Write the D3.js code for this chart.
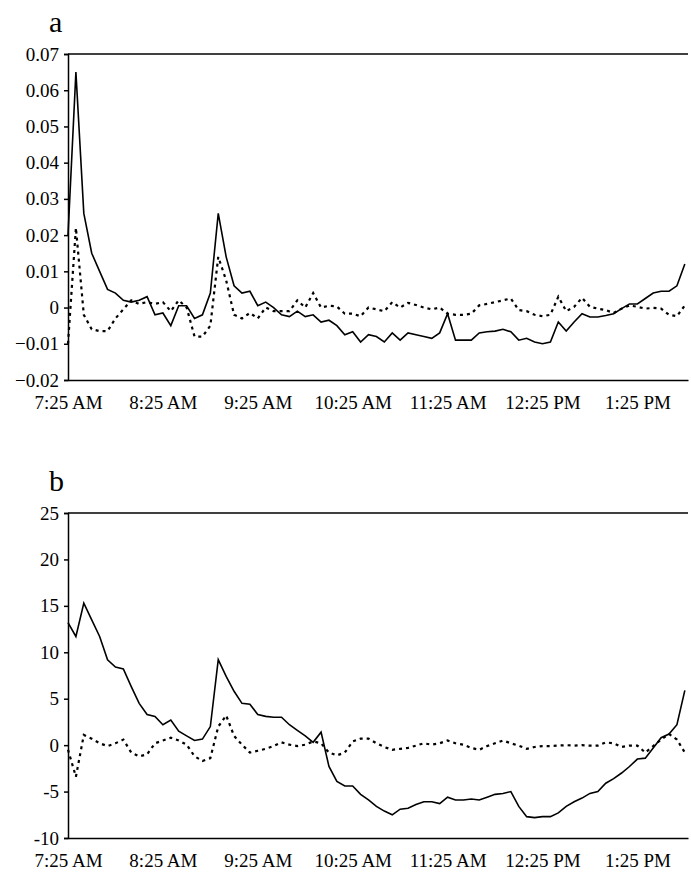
<!DOCTYPE html>
<html>
<head>
<meta charset="utf-8">
<script src="https://cdn.jsdelivr.net/npm/d3@7"></script>
<style>
  body { margin: 0; background: #fff; }
  svg text { font-family: "Liberation Serif", "Times New Roman", "DejaVu Serif", serif !important; fill: #000; }
</style>
</head>
<body>
<script>
// minutes after 7:25 AM, one sample every 5 minutes
const stepMinutes = 5;
const timeLabels = ['7:25 AM', '8:25 AM', '9:25 AM', '10:25 AM', '11:25 AM', '12:25 PM', '1:25 PM'];

const solidA = [
  0.02, 0.065, 0.026, 0.015, 0.010, 0.005, 0.004, 0.002, 0.0015, 0.002,
  0.003, -0.002, -0.0015, -0.005, 0.0005, 0.0005, -0.003, -0.002, 0.004, 0.026,
  0.014, 0.006, 0.004, 0.0045, 0.0005, 0.0015, 0.0, -0.002, -0.0025, -0.001,
  -0.0025, -0.002, -0.004, -0.0035, -0.005,
  -0.0075, -0.0067, -0.0095, -0.0075, -0.008, -0.0095, -0.007, -0.009, -0.007, -0.0075,
  -0.008, -0.0085, -0.007, -0.0017, -0.009, -0.009, -0.009, -0.007, -0.0067, -0.0065,
  -0.006, -0.0067, -0.009, -0.0085, -0.0095, -0.01, -0.0095, -0.004, -0.0065, -0.004,
  -0.0017, -0.0026, -0.0026, -0.0022, -0.0017, -0.0003, 0.001, 0.001, 0.0025, 0.004,
  0.0045, 0.0045, 0.006, 0.012
];
const dottedA = [
  -0.01, 0.022, -0.002, -0.006, -0.0065, -0.0065, -0.003, -0.0005, 0.002, 0.001,
  0.0015, 0.001, 0.0015, -0.001, 0.002, 0.0, -0.008, -0.008, -0.005, 0.014,
  0.0075, -0.002, -0.003, -0.0015, -0.003, 0.0, -0.001, -0.001, -0.001, 0.002,
  0.0, 0.004, 0.0, 0.0005, 0.0003,
  -0.0017, -0.0017, -0.0024, 0.0, -0.0005, -0.001, 0.0015, 0.0, 0.0013, 0.0007,
  0.0, -0.0005, 0.0, -0.0017, -0.002, -0.002, -0.0017, 0.0006, 0.001, 0.0015,
  0.002, 0.0025, -0.0007, -0.001, -0.002, -0.0024, -0.002, 0.003, -0.001, 0.0002,
  0.0027, 0.0002, -0.0003, -0.0007, -0.0015, -0.0003, 0.0006, 0.0002, -0.0003, -0.0001,
  -0.0003, -0.002, -0.0024, 0.0006
];
const solidB = [
  13.2, 11.7, 15.3, 13.5, 11.7, 9.2, 8.4, 8.2, 6.3, 4.5,
  3.3, 3.1, 2.2, 2.7, 1.5, 1.0, 0.5, 0.65, 2.0, 9.2,
  7.4, 5.8, 4.5, 4.4, 3.3, 3.1, 3.0, 3.0, 2.2, 1.6,
  1.0, 0.3, 1.4, -2.3, -3.9, -4.4, -4.4,
  -5.3, -5.9, -6.6, -7.1, -7.5, -6.9, -6.8, -6.4, -6.1, -6.1,
  -6.3, -5.6, -5.9, -5.9, -5.8, -5.9, -5.6, -5.3, -5.2, -5.0,
  -6.6, -7.7, -7.8, -7.7, -7.7, -7.3, -6.6, -6.1, -5.7, -5.2,
  -5.0, -4.1, -3.6, -3.0, -2.3, -1.5, -1.4, -0.3, 0.8, 1.2,
  2.2, 5.9
];
const dottedB = [
  -0.5, -3.4, 1.1, 0.7, 0.2, -0.1, 0.2, 0.6, -0.8, -1.2,
  -1.0, 0.2, 0.5, 0.8, 0.5, 0.05, -1.2, -1.7, -1.4, 2.0,
  3.2, 1.0, 0.05, -0.8, -0.6, -0.4, -0.1, 0.3, 0.05, -0.1,
  0.05, 0.4, 0.2, -0.8, -1.1, -0.8, 0.4,
  0.7, 0.7, 0.2, -0.2, -0.5, -0.4, -0.3, -0.05, 0.2, 0.05,
  0.2, 0.5, 0.2, 0.05, -0.3, -0.5, -0.1, 0.2, 0.5, 0.2,
  -0.05, -0.4, -0.2, -0.1, -0.1, -0.05, 0.0, -0.05, 0.0, -0.05,
  -0.05, 0.3, 0.2, -0.2, -0.05, -0.05, -0.8, -0.1, 0.6, 1.2,
  0.6, -0.8
];
const ticksA = [-0.02, -0.01, 0, 0.01, 0.02, 0.03, 0.04, 0.05, 0.06, 0.07];
const ticksB = [-10, -5, 0, 5, 10, 15, 20, 25];

const svg = d3.select('body').append('svg')
  .attr('width', 691).attr('height', 878);

function panel(opts) {
  let { letter, top, bottom, yDomain, ticks, fmt, solid, dotted } = opts;
  let left = 68, right = 688;
  let x = d3.scaleLinear().domain([0, 392]).range([left, right]);
  let y = d3.scaleLinear().domain(yDomain).range([bottom, top]);

  svg.append('text')
    .attr('x', 49).attr('y', top - 22)
    .attr('font-size', 30)
    .text(letter);

  let yAxis = svg.append('g')
    .attr('transform', `translate(${left},0)`)
    .call(d3.axisLeft(y).tickValues(ticks).tickFormat(fmt).tickSize(4).tickPadding(5));
  yAxis.attr('font-family', null).attr('font-size', 19);
  yAxis.selectAll('path, line').attr('stroke', '#000').attr('stroke-width', 1.5);

  let xAxis = svg.append('g')
    .attr('transform', `translate(0,${bottom})`)
    .call(d3.axisBottom(x).tickValues(timeLabels.map((t, i) => i * 60))
      .tickFormat((d, i) => timeLabels[i]).tickSize(0).tickPadding(16));
  xAxis.attr('font-family', null).attr('font-size', 19);
  xAxis.select('path').attr('stroke', '#000').attr('stroke-width', 1.5);

  svg.append('line')
    .attr('x1', left).attr('x2', right).attr('y1', top).attr('y2', top)
    .attr('stroke', '#000').attr('stroke-width', 1.5);

  let line = d3.line().x((d, i) => x(i * stepMinutes)).y(d => y(d));

  svg.append('path').datum(dotted)
    .attr('d', line).attr('fill', 'none')
    .attr('stroke', '#000').attr('stroke-width', 2.2)
    .attr('stroke-dasharray', '3,4');
  svg.append('path').datum(solid)
    .attr('d', line).attr('fill', 'none')
    .attr('stroke', '#000').attr('stroke-width', 1.6);
}

panel({ letter: 'a', top: 54, bottom: 380, yDomain: [-0.02, 0.07], ticks: ticksA,
  fmt: d => d === 0 ? '0' : d3.format('.2f')(d), solid: solidA, dotted: dottedA });
panel({ letter: 'b', top: 513, bottom: 838, yDomain: [-10, 25], ticks: ticksB,
  fmt: d => String(d), solid: solidB, dotted: dottedB });
</script>
</body>
</html>
